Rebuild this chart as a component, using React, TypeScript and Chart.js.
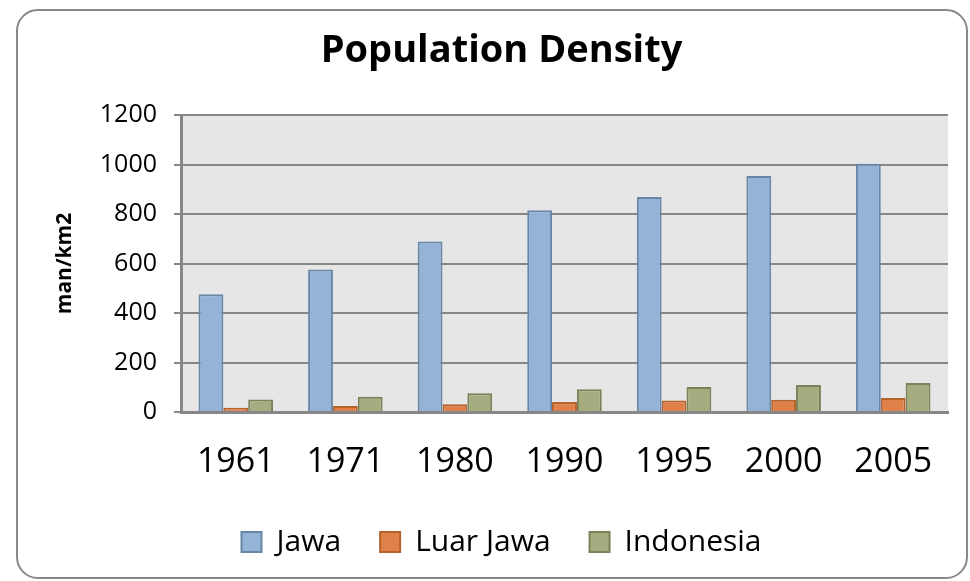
import React, { useEffect, useRef } from "react";
import { Chart, registerables } from "chart.js";

Chart.register(...registerables);

const years = ["1961", "1971", "1980", "1990", "1995", "2000", "2005"];
const jawa = [476, 576, 689, 815, 869, 954, 1003];
const luarJawa = [17, 24, 31, 40, 46, 50, 57];
const indonesia = [51, 62, 76, 92, 101, 109, 117];
const yTicks = [0, 200, 400, 600, 800, 1000, 1200];

const FONT = "'Open Sans', 'Liberation Sans', sans-serif";
const GRID = "#878787";

const plotBg = {
  id: "plotBg",
  beforeDraw(chart: any) {
    const { ctx, chartArea } = chart;
    if (!chartArea) return;
    ctx.save();
    ctx.fillStyle = "#e6e6e6";
    ctx.fillRect(chartArea.left, chartArea.top, chartArea.right - chartArea.left, chartArea.bottom - chartArea.top);
    ctx.restore();
  },
};

export default function App() {
  const ref = useRef<HTMLCanvasElement>(null);
  useEffect(() => {
    if (!ref.current) return;
    const chart = new Chart(ref.current, {
      type: "bar",
      data: {
        labels: years,
        datasets: [
          { label: "Jawa", data: jawa, backgroundColor: "#95b3d7", borderColor: "#6887a6", borderWidth: 2 },
          { label: "Luar Jawa", data: luarJawa, backgroundColor: "#e0804a", borderColor: "#b5622c", borderWidth: 2 },
          { label: "Indonesia", data: indonesia, backgroundColor: "#a5ad80", borderColor: "#7a8258", borderWidth: 2 },
        ],
      },
      plugins: [plotBg],
      options: {
        animation: false,
        responsive: false,
        devicePixelRatio: 1,
        layout: { padding: { left: 55, right: 22, top: 10, bottom: 14 } },
        datasets: { bar: { categoryPercentage: 0.68, barPercentage: 1 } },
        plugins: {
          title: {
            display: true,
            text: "Population Density",
            color: "#000",
            font: { family: FONT, size: 38, weight: "bold", lineHeight: 1.2 },
            padding: { top: 18, bottom: 41.4 },
          },
          legend: {
            position: "bottom",
            labels: {
              color: "#000",
              font: { family: FONT, size: 30 },
              boxWidth: 20,
              boxHeight: 20,
              padding: 39,
            },
          },
          tooltip: { enabled: false },
        },
        scales: {
          x: {
            grid: { display: false, drawTicks: false, tickLength: 0 },
            border: { display: true, color: GRID, width: 3 },
            ticks: { color: "#000", font: { family: FONT, size: 34 }, padding: 30, maxRotation: 0 },
            afterFit(scale: any) {
              scale.height = 76;
            },
          },
          y: {
            min: 0,
            max: 1200,
            afterBuildTicks(scale: any) {
              scale.ticks = yTicks.map((v) => ({ value: v }));
            },
            grid: { color: GRID, lineWidth: 2, tickLength: 7, drawTicks: true },
            border: { display: true, color: GRID, width: 3 },
            ticks: {
              color: "#000",
              font: { family: FONT, size: 25 },
              padding: 17,
              callback: (v: any) => String(v),
            },
            title: {
              display: true,
              text: "man/km2",
              color: "#000",
              font: { family: FONT, size: 21, weight: "bold", lineHeight: 1 },
              padding: { top: 0, bottom: 0 },
            },
            afterFit(scale: any) {
              scale.width = 126;
            },
          },
        },
      },
    });
    return () => chart.destroy();
  }, []);
  return (
    <div style={{ position: "fixed", left: 0, top: 0, width: 970, height: 581, background: "#fff" }}>
      <div
        style={{
          position: "absolute",
          left: 16,
          top: 9,
          width: 952,
          height: 570,
          border: "2px solid #888",
          borderRadius: 22,
          boxSizing: "border-box",
        }}
      />
      <canvas ref={ref} width={970} height={581} style={{ position: "absolute", left: 0, top: 0, width: 970, height: 581 }} />
    </div>
  );
}
